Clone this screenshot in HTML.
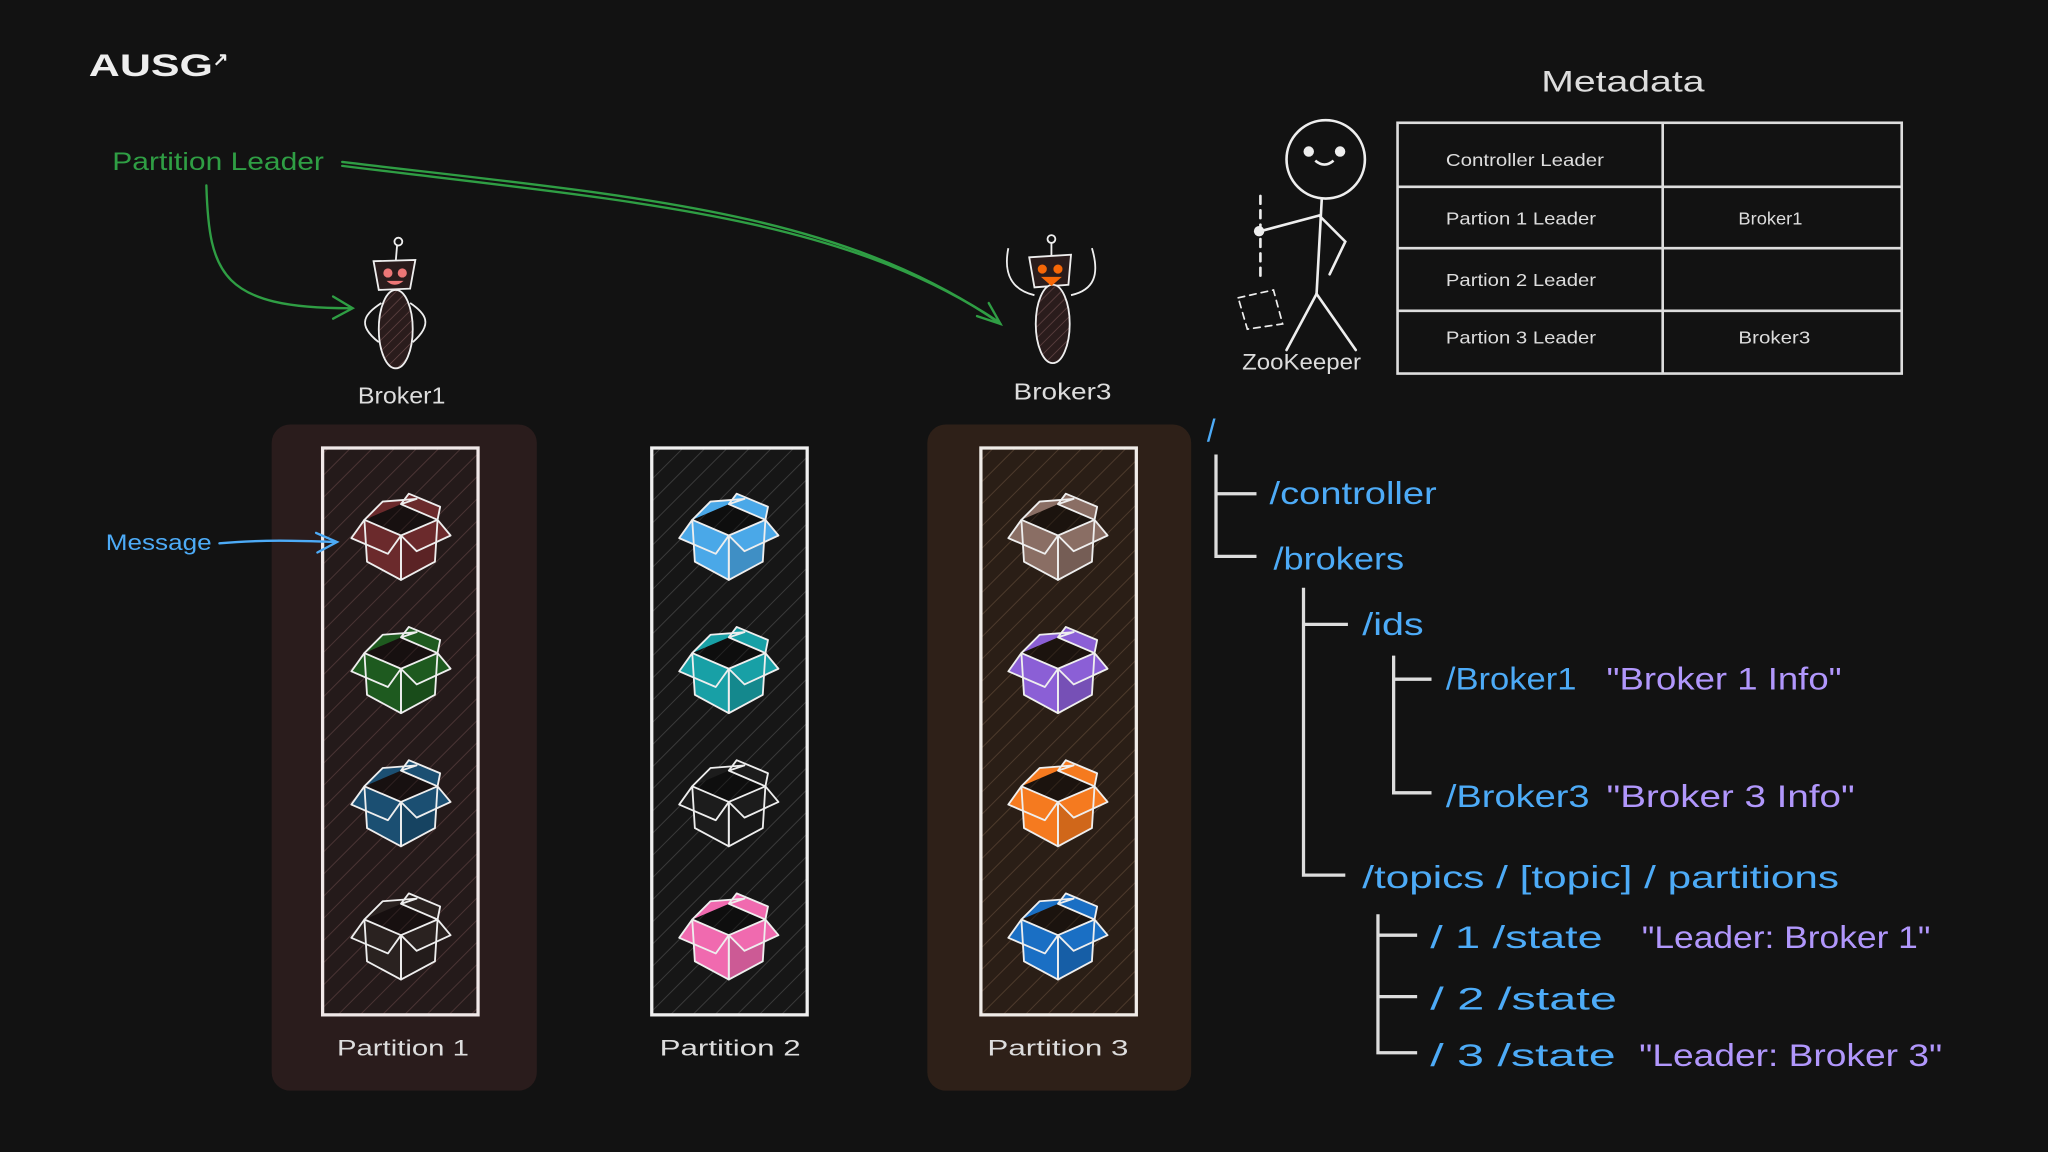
<!DOCTYPE html>
<html><head><meta charset="utf-8"><style>
html,body{margin:0;padding:0;background:#121212;}
svg{display:block}
text{font-family:"Liberation Sans",sans-serif;}
</style></head><body>
<svg width="2048" height="1152" viewBox="0 0 1568 882" xmlns="http://www.w3.org/2000/svg">
<defs>
<pattern id="h1" width="12" height="12" patternUnits="userSpaceOnUse" patternTransform="rotate(45)">
<rect width="12" height="12" fill="#241a1a"/><line x1="0" y1="0" x2="0" y2="12" stroke="#4a3434" stroke-width="1.5"/></pattern>
<pattern id="h2" width="12" height="12" patternUnits="userSpaceOnUse" patternTransform="rotate(45)">
<rect width="12" height="12" fill="#161616"/><line x1="0" y1="0" x2="0" y2="12" stroke="#3a3a3a" stroke-width="1.5"/></pattern>
<pattern id="h3" width="12" height="12" patternUnits="userSpaceOnUse" patternTransform="rotate(45)">
<rect width="12" height="12" fill="#2a1e16"/><line x1="0" y1="0" x2="0" y2="12" stroke="#4d3a2c" stroke-width="1.5"/></pattern>
<pattern id="hb" width="6" height="6" patternUnits="userSpaceOnUse" patternTransform="rotate(45)">
<rect width="6" height="6" fill="#2a1c1c"/><line x1="0" y1="0" x2="0" y2="6" stroke="#6a4a4a" stroke-width="1"/></pattern>
<g id="box">
 <polygon points="-28,-12 0,-24 28,-12 0,0" fill="#000" fill-opacity="0.35"/>
 <polygon points="-28,-12 0,0 0,34 -26,20" fill="currentColor"/>
 <polygon points="0,0 28,-12 26,20 0,34" fill="currentColor"/>
 <polygon points="0,0 28,-12 26,20 0,34" fill="#000" fill-opacity="0.15"/>
 <polygon points="-28,-12 -38,2 -10,14 0,0" fill="currentColor"/>
 <polygon points="28,-12 38,0 12,12 0,0" fill="currentColor"/>
 <polygon points="-28,-12 -14,-26 12,-28 0,-24" fill="currentColor"/>
 <polygon points="0,-24 6,-32 30,-22 28,-12" fill="currentColor"/>
 <g fill="none" stroke="#eee" stroke-width="1.4" stroke-linejoin="round">
  <polygon points="-28,-12 0,0 0,34 -26,20"/>
  <polygon points="0,0 28,-12 26,20 0,34"/>
  <polyline points="-28,-12 -38,2 -10,14 0,0"/>
  <polyline points="28,-12 38,0 12,12 0,0"/>
  <polyline points="-28,-12 -14,-26 12,-28 0,-24 28,-12"/>
  <polyline points="0,-24 6,-32 30,-22 28,-12"/>
 </g>
</g>
</defs>
<rect width="1568" height="882" fill="#121212"/>

<text x="68" y="58" font-size="24" font-weight="bold" fill="#eee" textLength="95" lengthAdjust="spacingAndGlyphs">AUSG</text>
<text x="163" y="50" font-size="14" font-weight="bold" fill="#eee">↗</text>

<!-- Partition leader -->
<text x="86" y="130" font-size="19" fill="#2f9e44" textLength="162" lengthAdjust="spacingAndGlyphs">Partition Leader</text>
<g fill="none" stroke="#2f9e44" stroke-width="1.8" stroke-linecap="round">
 <path d="M158,142 C160,210 170,236 268,236"/>
 <path d="M255,227 L270,236 L255,244"/>
 <path d="M262,124 C480,150 640,160 766,248"/>
 <path d="M262,127 C480,154 640,164 764,246"/>
 <path d="M748,242 L766,248 L757,232"/>
</g>

<!-- Broker1 robot -->
<g stroke="#eee" stroke-width="1.4" fill="none">
 <line x1="304" y1="188" x2="303" y2="200"/><circle cx="305" cy="185" r="3"/>
 <polygon points="286,200 318,199 314,221 290,222" fill="#2a1c1c"/>
 <ellipse cx="303" cy="252" rx="13" ry="30" fill="url(#hb)"/>
 <path d="M292,232 C280,240 272,248 290,262"/><path d="M314,232 C326,240 332,248 316,262"/>
</g>
<circle cx="297" cy="209" r="3.5" fill="#e77"/><circle cx="308" cy="209" r="3.5" fill="#e77"/>
<path d="M296,215 Q302,221 309,215 Z" fill="#e77"/>
<text x="274" y="309" font-size="18" fill="#ddd" textLength="67" lengthAdjust="spacingAndGlyphs">Broker1</text>

<!-- Broker3 robot -->
<g stroke="#eee" stroke-width="1.4" fill="none">
 <line x1="805" y1="186" x2="805" y2="196"/><circle cx="805" cy="183" r="3"/>
 <polygon points="788,197 820,195 818,218 792,220" fill="#2a1c1c"/>
 <ellipse cx="806" cy="248" rx="13" ry="30" fill="url(#hb)"/>
 <path d="M792,226 C775,222 768,210 772,190"/><path d="M820,226 C838,222 842,210 836,190"/>
</g>
<circle cx="798" cy="206" r="3.5" fill="#f76707"/><circle cx="810" cy="206" r="3.5" fill="#f76707"/>
<path d="M797,212 L813,212 L805,219 Z" fill="#f76707"/>
<text x="776" y="306" font-size="18" fill="#ddd" textLength="75" lengthAdjust="spacingAndGlyphs">Broker3</text>

<!-- partition groups -->
<rect x="208" y="325" width="203" height="510" rx="14" fill="#2a1c1c"/>
<rect x="710" y="325" width="202" height="510" rx="14" fill="#2e2018"/>
<rect x="247" y="343" width="119" height="434" fill="url(#h1)" stroke="#f0e8e8" stroke-width="2.5"/>
<rect x="499" y="343" width="119" height="434" fill="url(#h2)" stroke="#f0f0f0" stroke-width="2.5"/>
<rect x="751" y="343" width="119" height="434" fill="url(#h3)" stroke="#f0ece8" stroke-width="2.5"/>

<use href="#box" x="307" y="410" color="#6b2a2c"/>
<use href="#box" x="307" y="512" color="#1e5a1f"/>
<use href="#box" x="307" y="614" color="#1b4f72"/>
<use href="#box" x="307" y="716" color="#2a2220"/>
<use href="#box" x="558" y="410" color="#4aa8e8"/>
<use href="#box" x="558" y="512" color="#18a0a6"/>
<use href="#box" x="558" y="614" color="#1c1c1c"/>
<use href="#box" x="558" y="716" color="#f06aaf"/>
<use href="#box" x="810" y="410" color="#8a6e64"/>
<use href="#box" x="810" y="512" color="#8b5fd6"/>
<use href="#box" x="810" y="614" color="#f57a1f"/>
<use href="#box" x="810" y="716" color="#1a6fc4"/>

<text x="258" y="808" font-size="17" fill="#ddd" textLength="101" lengthAdjust="spacingAndGlyphs">Partition 1</text>
<text x="505" y="808" font-size="17" fill="#ddd" textLength="108" lengthAdjust="spacingAndGlyphs">Partition 2</text>
<text x="756" y="808" font-size="17" fill="#ddd" textLength="108" lengthAdjust="spacingAndGlyphs">Partition 3</text>

<!-- Message -->
<text x="81" y="421" font-size="17" fill="#4dabf7" textLength="81" lengthAdjust="spacingAndGlyphs">Message</text>
<g fill="none" stroke="#4dabf7" stroke-width="1.8" stroke-linecap="round">
 <path d="M168,416 C200,413 230,414 257,415"/><path d="M242,408 L258,415 L243,423"/>
</g>

<!-- Zookeeper -->
<g stroke="#eee" stroke-width="2" fill="none" stroke-linecap="round">
 <circle cx="1015" cy="122" r="30"/>
 <line x1="1012" y1="152" x2="1008" y2="225"/>
 <path d="M1010,165 L965,177"/><path d="M1010,165 L1030,185 L1018,210"/>
 <path d="M1008,225 L985,268"/><path d="M1008,225 L1038,268"/>
 <line x1="965" y1="150" x2="965" y2="215" stroke-dasharray="6,5"/>
 <path d="M948,228 L975,222 L982,248 L955,252 Z" stroke-width="1.3" stroke-dasharray="5,4"/>
</g>
<circle cx="964" cy="177" r="4" fill="#eee"/>
<circle cx="1002" cy="116" r="4" fill="#eee"/><circle cx="1026" cy="116" r="4" fill="#eee"/>
<path d="M1007,123 Q1014,129 1021,123" stroke="#eee" stroke-width="2" fill="none"/>
<text x="951" y="283" font-size="17" fill="#ddd" textLength="91" lengthAdjust="spacingAndGlyphs">ZooKeeper</text>

<!-- Metadata -->
<text x="1180" y="70" font-size="23" fill="#ddd" textLength="125" lengthAdjust="spacingAndGlyphs">Metadata</text>
<g stroke="#ddd" stroke-width="2" fill="none">
 <rect x="1070" y="94" width="386" height="192"/>
 <line x1="1070" y1="143" x2="1456" y2="143"/>
 <line x1="1070" y1="190" x2="1456" y2="190"/>
 <line x1="1070" y1="238" x2="1456" y2="238"/>
 <line x1="1273" y1="94" x2="1273" y2="286"/>
</g>
<g font-size="13.5" fill="#ddd" lengthAdjust="spacingAndGlyphs">
<text x="1107" y="127" textLength="121" lengthAdjust="spacingAndGlyphs">Controller Leader</text>
<text x="1107" y="172" textLength="115" lengthAdjust="spacingAndGlyphs">Partion 1 Leader</text>
<text x="1107" y="219" textLength="115" lengthAdjust="spacingAndGlyphs">Partion 2 Leader</text>
<text x="1107" y="263" textLength="115" lengthAdjust="spacingAndGlyphs">Partion 3 Leader</text>
<text x="1331" y="172" textLength="49" lengthAdjust="spacingAndGlyphs">Broker1</text>
<text x="1331" y="263" textLength="55" lengthAdjust="spacingAndGlyphs">Broker3</text>
</g>

<!-- tree -->
<g stroke="#ddd" stroke-width="2.5" fill="none">
 <path d="M931,348 L931,426 L962,426 M931,378 L962,378"/>
 <path d="M998,450 L998,670 L1030,670 M998,478 L1032,478"/>
 <path d="M1067,502 L1067,607 L1096,607 M1067,520 L1096,520"/>
 <path d="M1055,700 L1055,806 L1085,806 M1055,716 L1085,716 M1055,763 L1085,763"/>
</g>
<g font-size="24" fill="#4dabf7">
<text x="924" y="338">/</text>
<text x="972" y="386" textLength="128" lengthAdjust="spacingAndGlyphs">/controller</text>
<text x="975" y="436" textLength="100" lengthAdjust="spacingAndGlyphs">/brokers</text>
<text x="1043" y="486" textLength="47" lengthAdjust="spacingAndGlyphs">/ids</text>
<text x="1107" y="528" textLength="100" lengthAdjust="spacingAndGlyphs">/Broker1</text>
<text x="1107" y="618" textLength="110" lengthAdjust="spacingAndGlyphs">/Broker3</text>
<text x="1043" y="680" textLength="365" lengthAdjust="spacingAndGlyphs">/topics / [topic] / partitions</text>
<text x="1095" y="726" textLength="132" lengthAdjust="spacingAndGlyphs">/ 1 /state</text>
<text x="1095" y="773" textLength="143" lengthAdjust="spacingAndGlyphs">/ 2 /state</text>
<text x="1095" y="816" textLength="142" lengthAdjust="spacingAndGlyphs">/ 3 /state</text>
</g>
<g font-size="24" fill="#b197fc">
<text x="1230" y="528" textLength="180" lengthAdjust="spacingAndGlyphs">"Broker 1 Info"</text>
<text x="1230" y="618" textLength="190" lengthAdjust="spacingAndGlyphs">"Broker 3 Info"</text>
<text x="1257" y="726" textLength="221" lengthAdjust="spacingAndGlyphs">"Leader: Broker 1"</text>
<text x="1255" y="816" textLength="232" lengthAdjust="spacingAndGlyphs">"Leader: Broker 3"</text>
</g>
</svg>
</body></html>
